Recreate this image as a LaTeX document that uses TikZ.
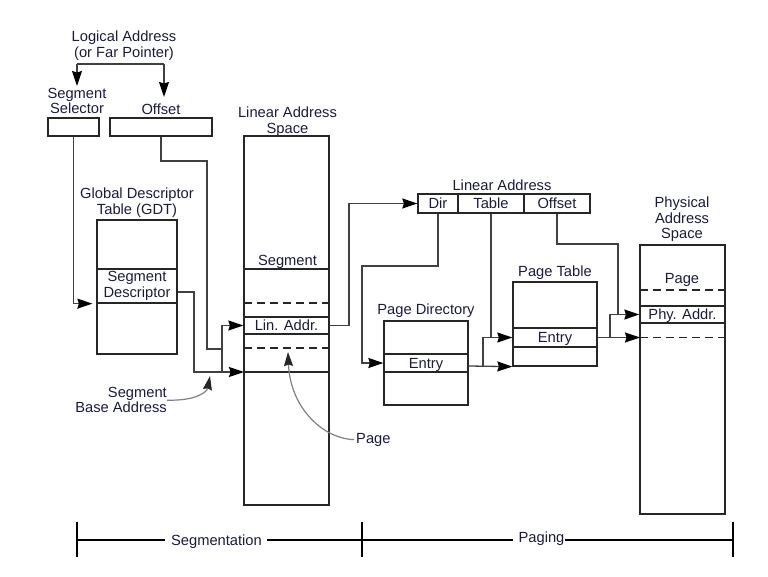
\documentclass[tikz,border=0pt]{standalone}
\usepackage{fontspec}
\setmainfont{Liberation Sans}
\usetikzlibrary{arrows.meta}
\usetikzlibrary{calc}
\definecolor{labelink}{RGB}{26,26,64}
\newcommand{\lblfont}{\fontsize{14.7}{15.5}\selectfont}

\tikzset{
    frame/.style={draw=black!85, line width=1.3pt, inner sep=0pt},
    row/.style={frame, text height=10.6pt, text depth=0pt, text=labelink, font=\lblfont, align=center},
    lbl/.style={text=labelink, font=\lblfont, inner sep=0pt, align=center},
    wire/.style={draw=black!75, line width=1.3pt},
    feed/.style={wire, -{Stealth[length=15pt,width=10pt,inset=1.5pt,color=black]}},
    split/.style={draw=black!85, line width=1.2pt},
    dsplit/.style={split, dash pattern=on 8pt off 5pt},
    hint/.style={draw=black!50, line width=1.2pt, -{Stealth[length=14pt,width=9pt,inset=1.5pt,color=black!85]}},
    tick/.style={draw=black, line width=1.3pt}
}

\begin{document}
\begin{tikzpicture}[x=1pt, y=-1pt]
        \useasboundingbox (0,0) rectangle (768,577);

        \node[lbl, anchor=north] (logaddr) at (124,31) {Logical Address\\(or Far Pointer)};
        \coordinate (splitl) at (77,64);
        \coordinate (splitr) at (164,64);
        \coordinate (seltip) at (77,86);
        \coordinate (offtip) at (164,97);
        \draw[wire] (splitl) -- (splitr);
        \draw[feed] (splitl) -- (seltip);
        \draw[feed] (splitr) -- (offtip);

        \node[lbl, anchor=north] (sellbl) at (77,88) {Segment\\Selector};
        \node[lbl, anchor=north] (offlbl) at (161,104) {Offset};
        \node[frame, minimum width=51pt, minimum height=18pt] (selbox) at (73.5,127) {};
        \node[frame, minimum width=102pt, minimum height=18pt] (offbox) at (161,127) {};

        \node[lbl, anchor=north] (gdtlbl) at (137,188) {Global Descriptor\\Table (GDT)};
        \node[frame, minimum width=80pt, minimum height=134pt] (gdt) at (137,287) {};
        \node[frame, lbl, minimum width=80pt, minimum height=34pt] (gdtent) at (137,286) {Segment\\Descriptor};

        \node[lbl, anchor=north] (linlbl) at (287.5,107) {Linear Address\\Space};
        \node[frame, minimum width=85pt, minimum height=369pt] (linsp) at (286.5,320.5) {};
        \node[lbl, anchor=north] (seglbl) at (287.5,255) {Segment};
        \coordinate (segtop) at (244,269);
        \coordinate (pgtop) at (244,303);
        \coordinate (pgbot) at (244,348);
        \coordinate (segbase) at (244,372);
        \draw[split] (segtop) -- (segtop -| linsp.east);
        \draw[dsplit] (pgtop) -- (pgtop -| linsp.east);
        \node[row, minimum width=85pt, minimum height=17pt] (linent) at (286.5,325.5) {Lin. Addr.};
        \draw[dsplit] (pgbot) -- (pgbot -| linsp.east);
        \draw[split] (segbase) -- (segbase -| linsp.east);

        \coordinate (offbend) at (207,161);
        \coordinate (sumin) at (222,349);
        \coordinate (sumfoot) at (222,372);
        \coordinate (basebend) at (194,372);
        \draw[wire] (offbox.south) |- (offbend) |- (sumin);
        \draw[feed, shorten >=4pt] (selbox.south) |- (gdtent.south west);
        \draw[feed] ([yshift=-6pt]gdtent.east) -| (basebend) -- (segbase);
        \draw[feed] (sumfoot) |- (linent.west);

        \node[lbl, anchor=north east, align=right] (baselbl) at (167,387) {Segment\\Base Address};
        \coordinate (basetip) at (210,376);
        \draw[hint] (baselbl.east) .. controls (196,401) and (207,392) .. (basetip);

        \node[lbl, anchor=north west] (pagelbl) at (356,433) {Page};
        \coordinate (pagetip) at (288,352);
        \draw[hint, shorten <=2pt] (pagelbl.west) .. controls (320,438) and (290,405) .. (pagetip);

        \node[lbl, anchor=north] (laddrlbl) at (502,180) {Linear Address};
        \node[row, minimum width=40pt, minimum height=19pt] (dircell) at (438,203.5) {Dir};
        \node[row, minimum width=66pt, minimum height=19pt] (tabcell) at (491,203.5) {Table};
        \node[row, minimum width=66pt, minimum height=19pt] (offcell) at (557,203.5) {Offset};
        \coordinate (lintop) at (349,203.5);
        \draw[feed] (linent.east) -| (lintop) -- (dircell.west);

        \node[lbl, anchor=north] (pdlbl) at (426,304) {Page Directory};
        \node[frame, minimum width=84pt, minimum height=84pt] (pdir) at (426,363) {};
        \node[row, minimum width=84pt, minimum height=18pt] (pdent) at (426,363) {Entry};
        \coordinate (dirbend) at (362,266);
        \draw[feed] (dircell.south) |- (dirbend) |- (pdent.west);

        \node[lbl, anchor=north] (ptlbl) at (555,266) {Page Table};
        \node[frame, minimum width=84pt, minimum height=84pt] (ptab) at (555,324) {};
        \node[row, minimum width=84pt, minimum height=19pt] (ptent) at (555,337.5) {Entry};
        \coordinate (ptsum) at (483,366);
        \draw[wire] (tabcell.south) -- (tabcell.south |- ptent.west);
        \draw[feed] ([yshift=-3pt]pdent.east) -- (ptab.south west);
        \draw[feed] (ptsum) |- (ptent.west);

        \node[lbl, anchor=north] (phylbl) at (682,197) {Physical\\Address\\Space};
        \node[frame, minimum width=85pt, minimum height=269pt] (physp) at (682.5,379.5) {};
        \node[lbl, anchor=north] (pglbl) at (682,273) {Page};
        \coordinate (phytop) at (640,290);
        \coordinate (pagebase) at (640,337.5);
        \draw[dsplit] (phytop) -- (phytop -| physp.east);
        \node[row, minimum width=85pt, minimum height=17pt] (phyent) at (682.5,314.5) {Phy. Addr.};
        \draw[dsplit] (pagebase) -- (pagebase -| physp.east);
        \coordinate (offdrop) at (618,244);
        \coordinate (physum) at (610,337.5);
        \draw[wire] (offcell.south) |- (offdrop) -- (offdrop |- phyent.west);
        \draw[feed] (ptent.east) -- (pagebase);
        \draw[feed] (physum) |- (phyent.west);

        \coordinate (segl) at (77,540);
        \coordinate (segm) at (362,540);
        \coordinate (segr) at (733,540);
        \node[lbl, anchor=north] (segtxt) at (216.5,535) {Segmentation};
        \node[lbl, anchor=north] (pagtxt) at (541.5,532) {Paging};
        \draw[tick, shorten >=6pt] (segl) -- (segl -| segtxt.west);
        \draw[tick, shorten <=5pt] (segl -| segtxt.east) -- (segm);
        \draw[tick, shorten >=5pt] (segm) -- (segm -| pagtxt.west);
        \draw[tick] (segm -| pagtxt.east) -- (segr);
        \foreach \p in {segl,segm,segr} \draw[tick] ([yshift=18pt]\p) -- ([yshift=-17pt]\p);
\end{tikzpicture}
\end{document}
